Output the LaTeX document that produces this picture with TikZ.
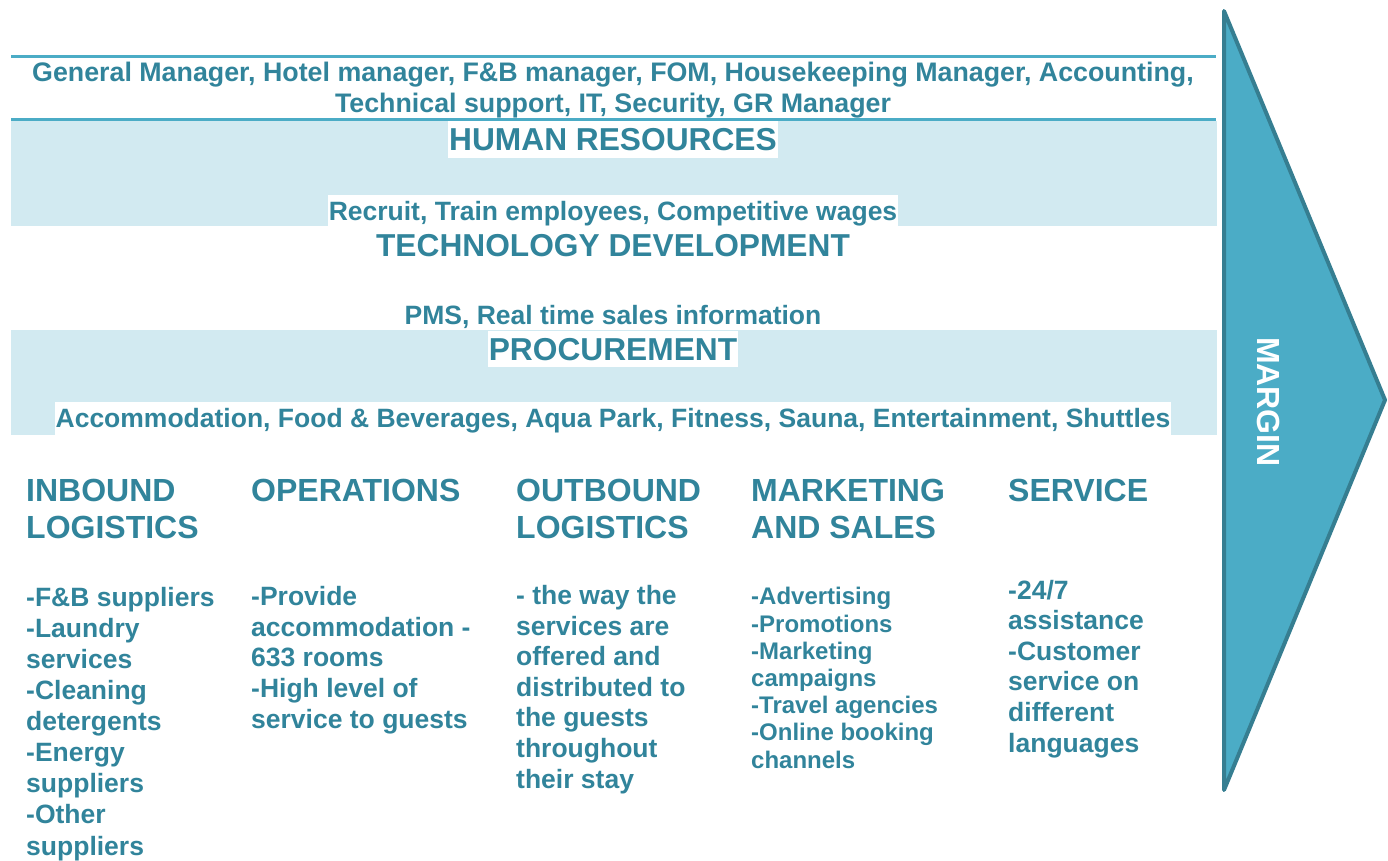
\documentclass[tikz,border=0pt]{standalone}
\usepackage{fontspec}
\setmainfont{Liberation Sans}
\definecolor{tealtxt}{RGB}{49,132,155}
\definecolor{bandfill}{RGB}{210,234,241}
\definecolor{arrowfill}{RGB}{75,172,198}
\definecolor{arrowline}{RGB}{54,126,145}
\begin{document}
\begin{tikzpicture}[x=1pt,y=-1pt,
  body/.style={text=tealtxt, font=\bfseries\fontsize{26.5}{30.6}\selectfont, inner sep=0pt, align=left, anchor=base west},
  small/.style={text=tealtxt, font=\bfseries\fontsize{24}{27.2}\selectfont, inner sep=0pt, align=left, anchor=base west},
  head/.style={text=tealtxt, font=\bfseries\fontsize{32}{37}\selectfont, inner sep=0pt, align=left, anchor=base west},
  bigc/.style={text=tealtxt, font=\bfseries\fontsize{31.7}{37}\selectfont, inner xsep=1pt, inner ysep=0pt, anchor=base, text height=29.5pt, text depth=7pt},
  bodyc/.style={text=tealtxt, font=\bfseries\fontsize{26.5}{30.5}\selectfont, inner xsep=1pt, inner ysep=0pt, anchor=base, text height=25.5pt, text depth=7pt, align=center},
  hl/.style={fill=white},
  band/.style={fill=bandfill, draw=none},
  rule/.style={draw=arrowfill, line width=3pt}
]
\useasboundingbox (0,0) rectangle (1388,861);
% bands
\fill[band] (11,121) rectangle (1217,226);
\fill[band] (11,330) rectangle (1217,435);
% rules
\draw[rule] (11,57) -- (1216,57);
\draw[rule] (11,120) -- (1216,120);
% top texts (multi-line nodes: base = last line)
\node[bodyc, font=\bfseries\fontsize{26.8}{30.5}\selectfont] (staff) at (613,112.5) {General Manager, Hotel manager, F\&B manager, FOM, Housekeeping Manager, Accounting,\\Technical support, IT, Security, GR Manager};
\node[bigc, hl] (hr) at (613,151) {HUMAN RESOURCES};
\node[bodyc, hl] (hrtxt) at (613,220.5) {Recruit, Train employees, Competitive wages};
\node[bigc] (tech) at (613,256) {TECHNOLOGY DEVELOPMENT};
\node[bodyc] (techtxt) at (613,324.5) {PMS, Real time sales information};
\node[bigc, hl] (proc) at (613,360.3) {PROCUREMENT};
\node[bodyc, hl] (proctxt) at (613,427.5) {Accommodation, Food \& Beverages, Aqua Park, Fitness, Sauna, Entertainment, Shuttles};
% margin arrow
\draw[draw=arrowline, fill=arrowfill, line width=4pt, line join=round] (1224,11) -- (1385,400) -- (1224,790) -- cycle;
\node[text=white, font=\bfseries\fontsize{32}{36}\selectfont, rotate=-90, inner sep=0pt] (margin) at (1268,402) {MARGIN};
% primary activities (base = last line)
\node[head] (h1) at (26,538) {INBOUND\\LOGISTICS};
\node[head] (h2) at (251,501) {OPERATIONS};
\node[head] (h3) at (516,538) {OUTBOUND\\LOGISTICS};
\node[head] (h4) at (751,538) {MARKETING\\AND SALES};
\node[head] (h5) at (1008,501) {SERVICE};
\node[body, font=\bfseries\fontsize{26.5}{31.1}\selectfont] (c1) at (26,855) {-F\&B suppliers\\-Laundry\\services\\-Cleaning\\detergents\\-Energy\\suppliers\\-Other\\suppliers};
\node[body] (c2) at (251,728) {-Provide\\accommodation -\\633 rooms\\-High level of\\service to guests};
\node[body] (c3) at (516,788) {- the way the\\services are\\offered and\\distributed to\\the guests\\throughout\\their stay};
\node[small] (c4) at (751,768) {-Advertising\\-Promotions\\-Marketing\\campaigns\\-Travel agencies\\-Online booking\\channels};
\node[body] (c5) at (1008,752) {-24/7\\assistance\\-Customer\\service on\\different\\languages};
\end{tikzpicture}
\end{document}
